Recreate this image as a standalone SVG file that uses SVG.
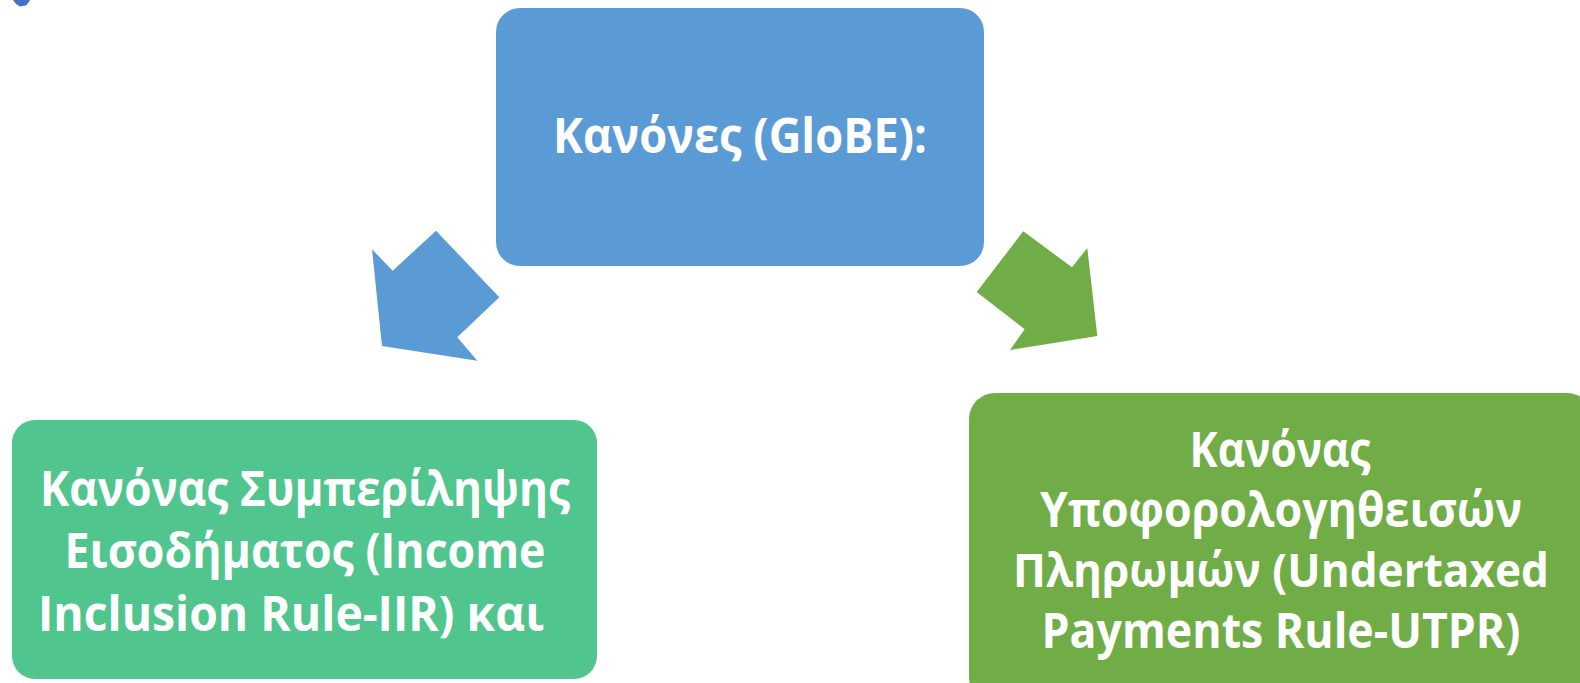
<svg xmlns="http://www.w3.org/2000/svg" width="1580" height="683" viewBox="0 0 1580 683">
<style>
.t{font-family:"Open Sans","Noto Sans","DejaVu Sans",sans-serif;font-weight:bold;font-size:48px;fill:#ffffff;text-anchor:middle}
.s{font-size:46px}
</style>
<rect width="1580" height="683" fill="#ffffff"/>
<path d="M13,0 L16,4 L20,6.5 L26,5.5 L29,2 L30,0 Z" fill="#4472C4"/>
<g id="connectors">
<polygon points="372,249.3 392.7,270.7 436,230.7 499.3,297.3 457.3,337.3 477.3,360.7 382,346" fill="#5B9BD5"/>
<polygon points="1023.3,231.3 1072,267.3 1087.3,248 1097.3,336 1010,350 1024.7,329.3 976.7,292" fill="#70AD47"/>
</g>
<g id="top">
<rect x="496" y="8" width="488" height="258" rx="24" fill="#5B9BD5"/>
<text class="t" x="740" y="153" textLength="374" lengthAdjust="spacingAndGlyphs">Κανόνες (GloBE):</text>
</g>
<g id="iir">
<rect x="12" y="420" width="585" height="259" rx="23" fill="#50C58E"/>
<text class="t" x="305" y="506" textLength="530" lengthAdjust="spacingAndGlyphs">Κανόνας Συμπερίληψης</text>
<text class="t" x="305" y="568" textLength="481" lengthAdjust="spacingAndGlyphs">Εισοδήματος (Income</text>
<text class="t" x="291" y="631" textLength="506" lengthAdjust="spacingAndGlyphs">Inclusion Rule-IIR) και</text>
</g>
<g id="utpr">
<rect x="969" y="393" width="624" height="310" rx="26" fill="#70AD47"/>
<text class="t" x="1280" y="467" textLength="181" lengthAdjust="spacingAndGlyphs">Κανόνας</text>
<text class="t" x="1281" y="527" textLength="482" lengthAdjust="spacingAndGlyphs">Υποφορολογηθεισών</text>
<text class="t s" x="1281" y="587" textLength="536" lengthAdjust="spacingAndGlyphs">Πληρωμών (Undertaxed</text>
<text class="t" x="1281" y="648" textLength="479" lengthAdjust="spacingAndGlyphs">Payments Rule-UTPR)</text>
</g>
</svg>
